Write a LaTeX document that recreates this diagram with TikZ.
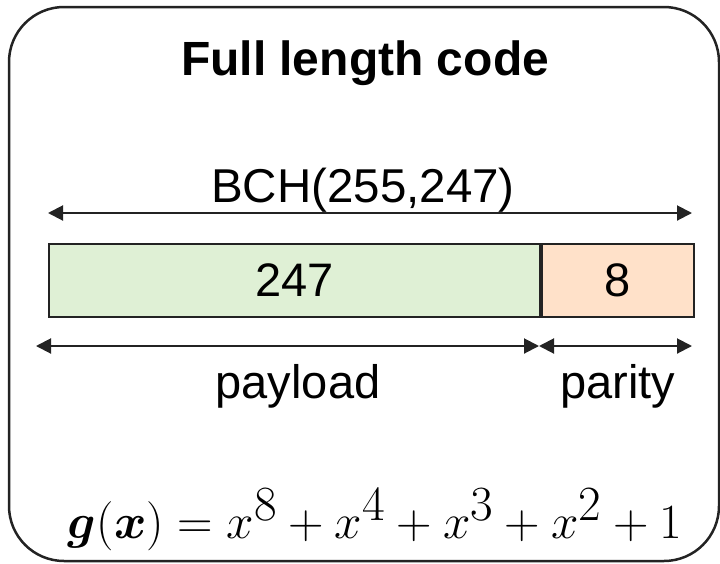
\documentclass[tikz,border=0pt]{standalone}
\usepackage{amsmath,amssymb,bm}
\usepackage{fontspec}
\setmainfont{Liberation Sans}
\usepackage{tikz}
\usetikzlibrary{arrows.meta}
\usetikzlibrary{positioning}
\usepackage{xcolor}

\definecolor{paygreen}{RGB}{223,240,213}
\definecolor{parpeach}{RGB}{255,225,201}
\definecolor{inkgray}{RGB}{35,35,35}

\newcommand{\bigtxt}{\fontsize{47}{56}\selectfont}

\tikzset{
  fieldbox/.style={draw=inkgray, line width=2pt, rectangle, inner sep=0pt,
    minimum height=73pt, font=\bigtxt},
  dimline/.style={inkgray, line width=2pt,
    {Triangle[length=15pt,width=15pt]}-{Triangle[length=15pt,width=15pt]}},
  lbl/.style={anchor=base, inner sep=0pt, font=\bigtxt}
}

\begin{document}
\begin{tikzpicture}[x=1pt,y=-1pt]
\useasboundingbox (0,0) rectangle (720,563);
% outer frame
\draw[inkgray, line width=2.5pt, rounded corners=55pt] (9,7) rectangle (719,561);

\node[lbl, font=\fontsize{48}{58}\selectfont\bfseries] (title) at (365,75) {Full length code};
\node[lbl, font=\fontsize{47.5}{57}\selectfont] (bch) at (363,202) {BCH(255,247)};

% code word: payload and parity fields
\node[fieldbox, fill=paygreen, minimum width=491pt, anchor=north west] (pay) at (48,243) {247};
\node[fieldbox, fill=parpeach, minimum width=152pt, anchor=north west] (par) at (pay.north east) {8};

\coordinate (topL) at (48,213);
\coordinate (topR) at (692,213);
\draw[dimline] (topL) -- (topR);

\coordinate (botL) at (36,346);
\coordinate (botM) at (539,346);
\coordinate (botR) at (692,346);
\draw[dimline] (botL) -- (botM);
\draw[dimline] (botM) -- (botR);

\node[lbl] (paylbl) at (298,398) {payload};
\node[lbl] (parlbl) at (618,398) {parity};

\node[lbl] (gen) at (375,538)
  {\resizebox{614pt}{!}{$\bm{g}(\bm{x}) = x^{8} + x^{4} + x^{3} + x^{2} + 1$}};
\end{tikzpicture}
\end{document}
